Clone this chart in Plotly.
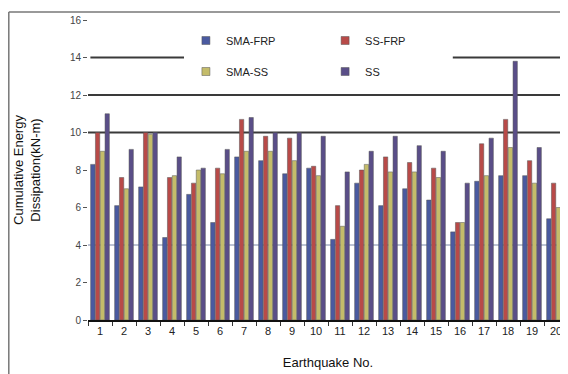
import plotly.graph_objects as go

categories = [str(i) for i in range(1, 21)]
sma_frp = [8.3, 6.1, 7.1, 4.4, 6.7, 5.2, 8.7, 8.5, 7.8, 8.1, 4.3, 7.3, 6.1, 7.0, 6.4, 4.7, 7.4, 7.7, 7.7, 5.4]
ss_frp  = [10.0, 7.6, 10.0, 7.6, 7.3, 8.1, 10.7, 9.8, 9.7, 8.2, 6.1, 8.0, 8.7, 8.4, 8.1, 5.2, 9.4, 10.7, 8.5, 7.3]
sma_ss  = [9.0, 7.0, 9.9, 7.7, 8.0, 7.8, 9.0, 9.0, 8.5, 7.7, 5.0, 8.3, 7.9, 7.9, 7.6, 5.2, 7.7, 9.2, 7.3, 6.0]
ss      = [11.0, 9.1, 10.0, 8.7, 8.1, 9.1, 10.8, 10.0, 10.0, 9.8, 7.9, 9.0, 9.8, 9.3, 9.0, 7.3, 9.7, 13.8, 9.2, 9.0]
y_ticks = [0, 2, 4, 6, 8, 10, 12, 14, 16]

series = [
    ("SMA-FRP", sma_frp, "#4a5aa0", "legend"),
    ("SS-FRP", ss_frp, "#b84a48", "legend2"),
    ("SMA-SS", sma_ss, "#c4bc6a", "legend"),
    ("SS", ss, "#5a4e88", "legend2"),
]

fig = go.Figure()
for name, vals, col, lg in series:
    fig.add_trace(go.Bar(x=categories, y=vals, name=name, marker=dict(color=col, line=dict(color="#555", width=0.5)),
                         showlegend=False))
for name, vals, col, lg in series:
    fig.add_trace(go.Scatter(x=[None], y=[None], mode="markers", name=name, legend=lg, legendgroup=name,
                             marker=dict(symbol="square", size=8, color=col, line=dict(color="#555", width=0.5))))

shapes = []
for yv in [10, 12]:
    shapes.append(dict(type="line", xref="paper", yref="y", x0=0, x1=1, y0=yv, y1=yv,
                       line=dict(color="#3a3a3a", width=2), layer="below"))
shapes.append(dict(type="line", xref="paper", yref="y", x0=0.005, x1=0.2, y0=14, y1=14,
                   line=dict(color="#3a3a3a", width=2), layer="below"))
shapes.append(dict(type="line", xref="paper", yref="y", x0=0.76, x1=1, y0=14, y1=14,
                   line=dict(color="#3a3a3a", width=2), layer="below"))
shapes.append(dict(type="line", xref="paper", yref="y", x0=0, x1=1, y0=4, y1=4,
                   line=dict(color="#7a88aa", width=1), layer="below"))
shapes.append(dict(type="line", xref="paper", yref="paper", x0=-0.165, x1=1.0, y0=1.027, y1=1.027,
                   line=dict(color="#777", width=1.5)))
shapes.append(dict(type="line", xref="paper", yref="paper", x0=-0.165, x1=-0.165, y0=1.027, y1=-0.2,
                   line=dict(color="#777", width=1.5)))

# page body adds an 8px offset, so the figure is sized 560x366
fig.update_layout(
    width=560, height=366,
    margin=dict(l=80, r=0, t=12, b=54, autoexpand=False),
    paper_bgcolor="white", plot_bgcolor="white",
    barmode="group", bargap=0.2, bargroupgap=0.1,
    font=dict(family="Liberation Sans, Arial", color="#222"),
    shapes=shapes,
    legend=dict(x=0.204, y=0.98, xanchor="left", yanchor="top", orientation="v",
                tracegroupgap=12, font=dict(size=11, color="#222"), bgcolor="rgba(0,0,0,0)"),
    legend2=dict(x=0.494, y=0.98, xanchor="left", yanchor="top", orientation="v",
                 tracegroupgap=12, font=dict(size=11, color="#222"), bgcolor="rgba(0,0,0,0)"),
    xaxis=dict(range=[-0.5, 19.5], showline=True, linecolor="#111", linewidth=2, automargin=False,
               ticks="outside", tickson="boundaries", ticklen=4, tickcolor="#333",
               tickfont=dict(size=11, color="#222"), showgrid=False,
               title=dict(text="Earthquake No.", font=dict(size=13, color="#111"), standoff=22)),
    yaxis=dict(range=[0, 16], tickvals=y_ticks, showgrid=False, zeroline=False, showline=False, automargin=False,
               ticks="outside", ticklen=4, tickcolor="#555",
               tickfont=dict(size=10, color="#444"),
               title=dict(text="Cumulative Energy<br>Dissipation(kN-m)", font=dict(size=13, color="#111"), standoff=26)),
)

fig.write_html("out.html")
